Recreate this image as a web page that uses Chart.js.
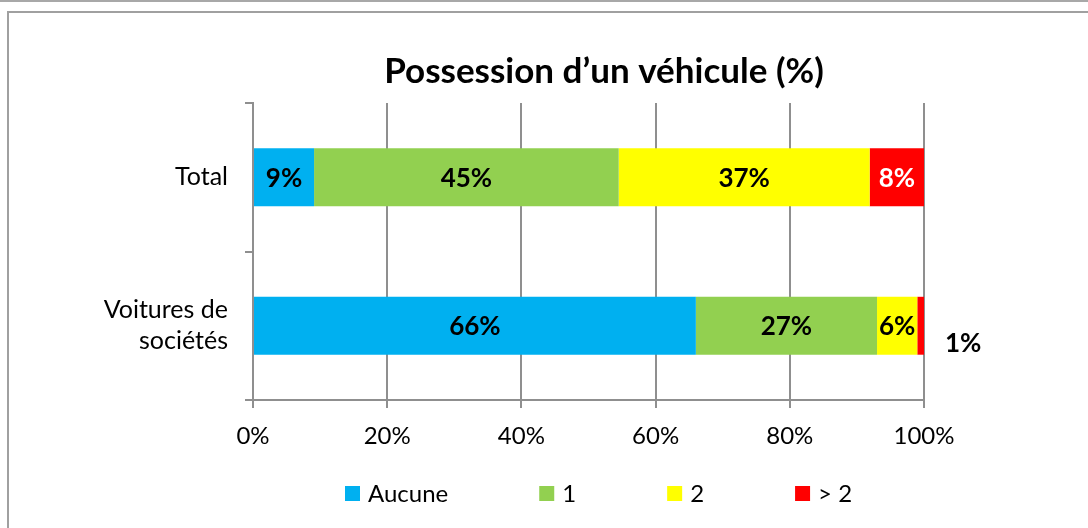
<!DOCTYPE html>
<html>
<head>
<meta charset="utf-8">
<script src="https://cdn.jsdelivr.net/npm/chart.js@4.4.1/dist/chart.umd.min.js"></script>
<style>
    html, body { margin: 0; padding: 0; background: #fff; overflow: hidden; }
    .strip { position: absolute; left: 0; top: 0; width: 1088px; height: 2px; background: #a8a8a8; }
    .frame { position: absolute; left: 7px; top: 11px; width: 1200px; height: 600px;
             border-left: 2px solid #a0a0a0; border-top: 2px solid #a0a0a0; }
    canvas { position: absolute; left: 0; top: 0; }
</style>
</head>
<body>
<div class="strip"></div>
<div class="frame"></div>
<canvas id="chart" width="1088" height="528"></canvas>
<script>
// === DATEN ===
const CATEGORIES = ['Total', ['Voitures de', 'sociétés']];
const SERIES_NAMES = ['Aucune', '1', '2', '> 2'];
const AUCUNE = [9.1, 66.0];
const UN = [45.4, 27.0];
const DEUX = [37.4, 6.0];
const PLUS_DE_DEUX = [8.1, 1.0];
const X_TICKS = [0, 20, 40, 60, 80, 100];

// === STIL ===
const COLORS = ['#00B0F0', '#92D050', '#FFFF00', '#FF0000'];
const LABEL_COLORS = ['#000000', '#000000', '#000000', '#FFFFFF'];
const GRID = '#8f8f8f';
const FONT = 'Lato';

// Titel direkt auf den Canvas zeichnen
const titlePlugin = {
    id: 'titlePlugin',
    afterDraw(chart) {
        const ctx = chart.ctx;
        ctx.save();
        ctx.font = `bold 35px ${FONT}`;
        ctx.fillStyle = '#000';
        ctx.textAlign = 'center';
        ctx.textBaseline = 'alphabetic';
        ctx.fillText('Possession d\u2019un véhicule (%)', 604, 83);
        ctx.restore();
    }
};

// Werte-Beschriftungen in den Balken
const valueLabels = {
    id: 'valueLabels',
    afterDatasetsDraw(chart) {
        const ctx = chart.ctx;
        ctx.save();
        ctx.font = `bold 26px ${FONT}`;
        ctx.textBaseline = 'middle';
        chart.data.datasets.forEach((ds, i) => {
            chart.getDatasetMeta(i).data.forEach((bar, j) => {
                const v = ds.data[j];
                const text = Math.round(v) + '%';
                if (v < 3) {
                    // zu schmal: rechts daneben
                    ctx.textAlign = 'left';
                    ctx.fillStyle = '#000';
                    ctx.fillText(text, bar.x + 21, bar.y + 18);
                } else {
                    ctx.textAlign = 'center';
                    ctx.fillStyle = LABEL_COLORS[i];
                    ctx.fillText(text, (bar.x + bar.base) / 2, bar.y + 1);
                }
            });
        });
        ctx.restore();
    }
};

// Legende unten, Abstand wie im Original
const bottomLegend = {
    id: 'bottomLegend',
    afterDraw(chart) {
        const ctx = chart.ctx;
        ctx.save();
        ctx.font = `24px ${FONT}`;
        ctx.textAlign = 'left';
        ctx.textBaseline = 'alphabetic';
        let x = 345;
        chart.data.datasets.forEach(ds => {
            ctx.fillStyle = ds.backgroundColor;
            ctx.fillRect(x, 486, 15, 15);
            ctx.fillStyle = '#000';
            ctx.fillText(ds.label, x + 23, 502);
            x += 23 + ctx.measureText(ds.label).width + 91;
        });
        ctx.restore();
    }
};

const seriesData = [AUCUNE, UN, DEUX, PLUS_DE_DEUX];

new Chart(document.getElementById('chart'), {
    type: 'bar',
    data: {
        labels: CATEGORIES,
        datasets: seriesData.map((data, i) => ({
            label: SERIES_NAMES[i],
            data,
            backgroundColor: COLORS[i],
            borderWidth: 0,
            barPercentage: 0.39,
            categoryPercentage: 1.0
        }))
    },
    options: {
        indexAxis: 'y',
        responsive: false,
        animation: false,
        layout: { padding: { top: 103, left: 20, right: 164, bottom: 68 } },
        plugins: {
            legend: { display: false },
            title: { display: false },
            tooltip: { enabled: false }
        },
        scales: {
            x: {
                stacked: true,
                min: 0,
                max: 100,
                afterBuildTicks: (scale) => { scale.ticks = X_TICKS.map(v => ({ value: v })); },
                afterFit: (scale) => { scale.height = 60; },
                ticks: {
                    callback: (v) => v + '%',
                    font: { family: FONT, size: 24 },
                    color: '#000',
                    padding: 14,
                    maxRotation: 0
                },
                grid: { color: GRID, lineWidth: 2, tickLength: 8 },
                border: { display: true, color: GRID, width: 2 }
            },
            y: {
                stacked: true,
                afterFit: (scale) => { scale.width = 233; },
                ticks: {
                    font: { family: FONT, size: 25, lineHeight: 1.25 },
                    color: '#000',
                    padding: 17
                },
                grid: { drawOnChartArea: false, offset: true, color: GRID, lineWidth: 2, tickLength: 8 },
                border: { display: true, color: GRID, width: 2 }
            }
        }
    },
    plugins: [titlePlugin, valueLabels, bottomLegend]
});
</script>
</body>
</html>
